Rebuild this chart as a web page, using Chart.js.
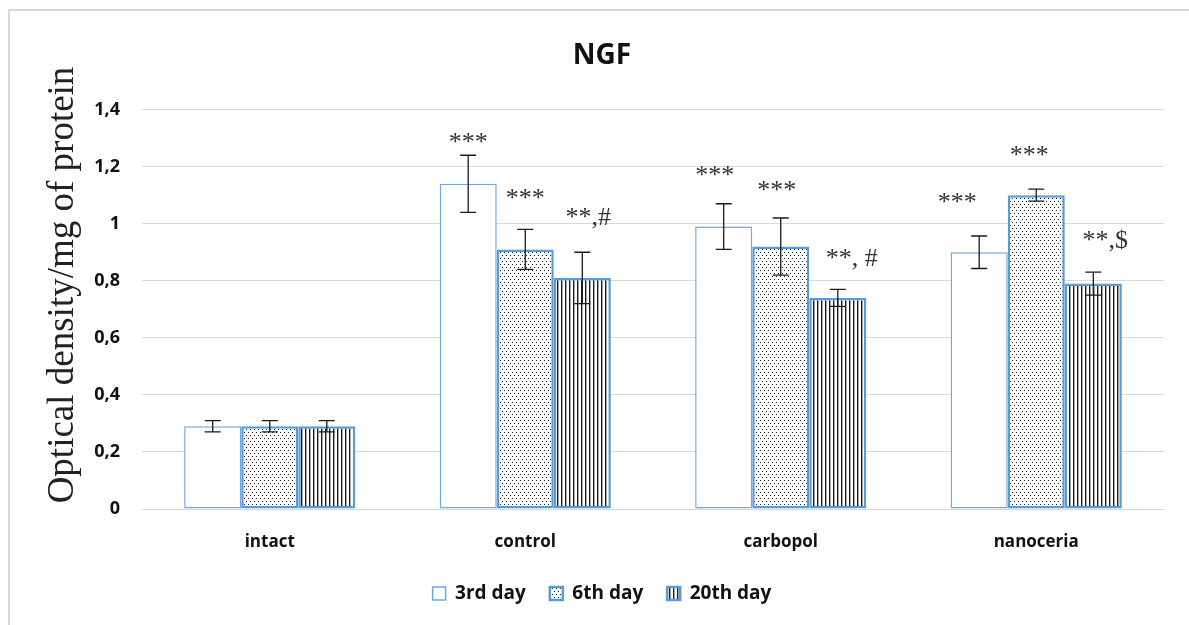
<!DOCTYPE html>
<html>
<head>
<meta charset="utf-8">
<script src="https://cdn.jsdelivr.net/npm/chart.js@4.4.1/dist/chart.umd.min.js"></script>
<style>
  html, body { margin: 0; padding: 0; background: #fff; }
  #wrap { position: relative; width: 1189px; height: 625px; overflow: hidden; }
  canvas { display: block; }
</style>
</head>
<body>
<div id="wrap"><canvas id="c" width="1189" height="625"></canvas></div>
<script>
// ---- data ----
const categories = ['intact', 'control', 'carbopol', 'nanoceria'];
const seriesNames = ['3rd day', '6th day', '20th day'];
const day3  = [0.29, 1.14, 0.99, 0.90];
const day6  = [0.29, 0.91, 0.92, 1.10];
const day20 = [0.29, 0.81, 0.74, 0.79];
const err3  = [0.02, 0.10, 0.08, 0.057];
const err6  = [0.02, 0.07, 0.10, 0.021];
const err20 = [0.02, 0.09, 0.03, 0.04];
const sig3  = ['', '***', '***', '***'];
const sig6  = ['', '***', '***', '***'];
const sig20 = ['', '**,#', '**, #', '**,$'];
const yTickLabels = ['0', '0,2', '0,4', '0,6', '0,8', '1', '1,2', '1,4'];
const chartTitle = 'NGF';
const yTitle = 'Optical density/mg of protein';

// ---- patterns ----
function dotPattern() {
  const c = document.createElement('canvas'); c.width = 4; c.height = 6;
  const g = c.getContext('2d');
  g.fillStyle = '#fff'; g.fillRect(0, 0, 4, 6);
  g.fillStyle = '#1a1a1a';
  g.fillRect(0, 0, 1, 1); g.fillRect(2, 3, 1, 1);
  return g.createPattern(c, 'repeat');
}
function linePattern() {
  const c = document.createElement('canvas'); c.width = 4; c.height = 4;
  const g = c.getContext('2d');
  g.fillStyle = '#fff'; g.fillRect(0, 0, 4, 4);
  g.fillStyle = '#1a1a1a';
  g.fillRect(1, 0, 1.4, 4);
  return g.createPattern(c, 'repeat');
}

const BLUE = '#5b9bd5';
const FONT = "'Open Sans', 'DejaVu Sans', sans-serif";

const frame = {
  id: 'frame',
  beforeDraw(chart) {
    const ctx = chart.ctx;
    ctx.save();
    ctx.fillStyle = '#fff';
    ctx.fillRect(0, 0, chart.width, chart.height);
    ctx.strokeStyle = '#d9d9d9';
    ctx.lineWidth = 2;
    ctx.beginPath();
    ctx.moveTo(9, 625); ctx.lineTo(9, 10); ctx.lineTo(1189, 10);
    ctx.stroke();
    ctx.restore();
  }
};

const yTitlePlugin = {
  id: 'yTitlePlugin',
  afterDraw(chart) {
    const ctx = chart.ctx;
    ctx.save();
    ctx.translate(73, 285);
    ctx.rotate(-Math.PI / 2);
    ctx.font = "37px 'Liberation Serif', 'DejaVu Serif', serif";
    ctx.fillStyle = '#222';
    ctx.textAlign = 'center';
    ctx.textBaseline = 'alphabetic';
    ctx.fillText(yTitle, 0, 0);
    ctx.restore();
  }
};

const errorBars = {
  id: 'errorBars',
  afterDatasetsDraw(chart, args, opts) {
    const ctx = chart.ctx;
    const y = chart.scales.y;
    ctx.save();
    chart.data.datasets.forEach((ds, di) => {
      const meta = chart.getDatasetMeta(di);
      meta.data.forEach((bar, i) => {
        const v = ds.data[i], e = ds.errors[i];
        const yt = y.getPixelForValue(v + e), yb = y.getPixelForValue(v - e);
        const x = bar.x;
        ctx.strokeStyle = '#1a1a1a';
        ctx.lineWidth = 1.3;
        ctx.beginPath();
        ctx.moveTo(x, yt); ctx.lineTo(x, yb);
        ctx.moveTo(x - 8, yt); ctx.lineTo(x + 8, yt);
        ctx.moveTo(x - 8, yb); ctx.lineTo(x + 8, yb);
        ctx.stroke();
        const label = ds.sig[i];
        if (label) {
          const off = (opts.offsets[di] && opts.offsets[di][i]) || [0, 30];
          ctx.font = "26px 'Liberation Serif', 'DejaVu Serif', serif";
          ctx.fillStyle = '#333';
          ctx.textAlign = 'center';
          ctx.textBaseline = 'middle';
          ctx.fillText(label, x + off[0], yt - off[1]);
        }
      });
    });
    ctx.restore();
  }
};

const chart = new Chart(document.getElementById('c'), {
  type: 'bar',
  data: {
    labels: categories,
    datasets: [
      { label: seriesNames[0], data: day3, errors: err3, sig: sig3,
        backgroundColor: '#ffffff', borderColor: '#6fa8dc', borderWidth: 1.5, borderSkipped: false },
      { label: seriesNames[1], data: day6, errors: err6, sig: sig6,
        backgroundColor: dotPattern(), borderColor: BLUE, borderWidth: 2.5, borderSkipped: false },
      { label: seriesNames[2], data: day20, errors: err20, sig: sig20,
        backgroundColor: linePattern(), borderColor: BLUE, borderWidth: 2.5, borderSkipped: false }
    ]
  },
  options: {
    responsive: false,
    animation: false,
    layout: { padding: { left: 40, right: 25, top: 0, bottom: 12 } },
    datasets: { bar: { barPercentage: 1.0, categoryPercentage: 0.67 } },
    scales: {
      x: {
        grid: { display: false, drawTicks: false },
        border: { display: true, color: '#d9d9d9', width: 1 },
        ticks: { color: '#111', font: { family: FONT, size: 17, weight: 'bold' }, padding: 23 },
        afterFit(s) { s.height = 51; }
      },
      y: {
        min: 0, max: 1.4,
        ticks: {
          stepSize: 0.2,
          color: '#111',
          font: { family: FONT, size: 18, weight: 'bold' },
          padding: 22,
          callback: (v, i) => yTickLabels[i]
        },
        grid: { color: '#d9d9d9', lineWidth: 1, drawTicks: false },
        border: { display: false },
        afterFit(s) { s.width = 102; }
      }
    },
    plugins: {
      title: {
        display: true, text: chartTitle, color: '#111',
        font: { family: FONT, size: 28, weight: 'bold' },
        padding: { top: 39, bottom: 37 }
      },
      legend: {
        position: 'bottom',
        labels: {
          color: '#111',
          font: { family: FONT, size: 19, weight: 'bold' },
          boxWidth: 13, boxHeight: 13, padding: 24
        }
      },
      tooltip: { enabled: false },
      errorBars: {
        offsets: [
          [null, [0, 12], [-9, 28], [-22, 33]],
          [null, [0, 30], [-4, 27], [-7, 33]],
          [null, [6, 34], [14, 30], [12, 31]]
        ]
      }
    }
  },
  plugins: [frame, errorBars, yTitlePlugin]
});
</script>
</body>
</html>
